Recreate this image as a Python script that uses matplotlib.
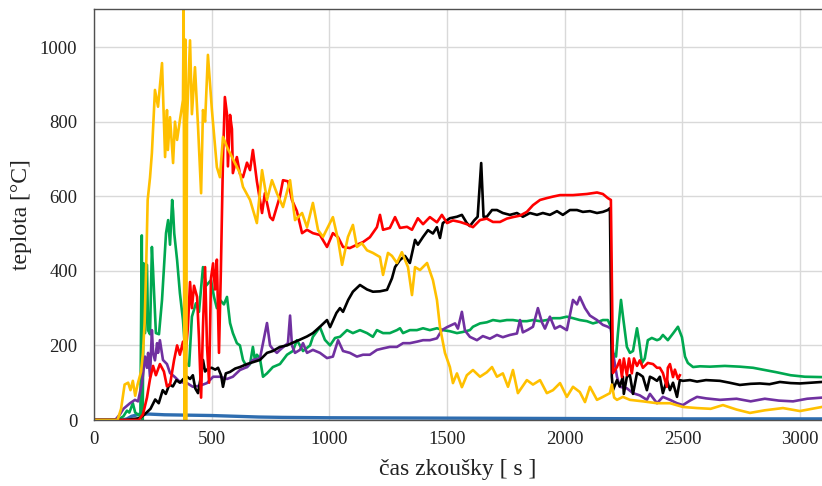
import numpy as np
import matplotlib.pyplot as plt

plt.rcParams['font.family'] = ['Liberation Serif', 'DejaVu Serif']

# teploty v jednotlivych mistech mereni [s], [°C]
t_zluta = [0, 100, 115, 130, 145, 155, 165, 175, 185, 200, 208, 215, 222, 228, 238, 246, 259, 272,
           289, 293, 302, 310, 314, 323, 336, 344, 353, 365, 378, 381, 384, 388, 391, 395, 408, 416,
           429, 442, 455, 463, 472, 484, 501, 522, 535, 548, 565, 590, 620, 633, 663, 692, 714, 735,
           756, 777, 803, 833, 854, 884, 905, 930, 952, 973, 1015, 1037, 1054, 1079, 1100, 1117,
           1138, 1160, 1185, 1215, 1228, 1249, 1266, 1287, 1308, 1334, 1351, 1364, 1385, 1415, 1440,
           1457, 1470, 1491, 1512, 1525, 1542, 1563, 1584, 1610, 1640, 1669, 1691, 1712, 1737, 1759,
           1780, 1801, 1839, 1865, 1895, 1924, 1950, 1980, 2009, 2035, 2064, 2086, 2107, 2137, 2162,
           2192, 2200, 2210, 2222, 2247, 2277, 2332, 2392, 2447, 2502, 2562, 2620, 2672, 2730, 2787,
           2850, 2927, 2999, 3093]
T_zluta = [0, 0, 30, 95, 100, 80, 105, 65, 95, 130, 180, 260, 420, 590, 650, 716, 885, 840,
           957, 880, 705, 831, 724, 812, 689, 800, 751, 804, 858, 1100, 0, 1020, 0, 800, 1018, 820,
           946, 786, 608, 831, 800, 979, 831, 678, 651, 759, 732, 700, 662, 625, 590, 528, 670, 590,
           643, 608, 571, 643, 536, 555, 517, 582, 509, 491, 544, 483, 416, 491, 523, 464,
           474, 455, 448, 437, 389, 448, 440, 421, 450, 410, 335, 410, 402, 421, 375,
           322, 249, 180, 142, 99, 125, 88, 120, 134, 116, 128, 142, 116, 125, 89,
           134, 72, 107, 95, 107, 72, 80, 99, 62, 89, 75, 48, 89, 54, 62,
           72, 95, 60, 54, 62, 54, 50, 45, 45, 35, 32, 30, 40, 28, 19,
           26, 32, 24, 35]

t_cervena = [0, 190, 208, 225, 238, 251, 263, 280, 297, 310, 323, 340, 353, 365, 378, 387, 399, 408,
             416, 425, 438, 446, 455, 463, 472, 480, 489, 497, 506, 514, 522, 531, 539, 548, 556, 565,
             569, 578, 586, 590, 607, 620, 633, 650, 663, 675, 692, 714, 726, 748, 760, 790, 803, 824,
             841, 862, 884, 905, 930, 960, 990, 1015, 1037, 1058, 1087, 1117, 1143, 1172, 1202, 1215,
             1228, 1257, 1279, 1300, 1330, 1351, 1376, 1398, 1427, 1457, 1478, 1500, 1525, 1555, 1584,
             1610, 1640, 1669, 1695, 1725, 1754, 1780, 1810, 1839, 1865, 1895, 1924, 1950, 1980, 2035,
             2094, 2137, 2162, 2183, 2196, 2205, 2222, 2234, 2243, 2251, 2264, 2273, 2285, 2294, 2307,
             2319, 2332, 2353, 2375, 2392, 2404, 2417, 2434, 2438, 2447, 2460, 2468, 2481, 2489]
T_cervena = [0, 0, 15, 60, 110, 145, 120, 150, 130, 90, 95, 160, 200, 175, 210, 160, 250, 370,
             300, 360, 330, 220, 60, 250, 410, 200, 100, 380, 420, 350, 430, 180, 400, 700, 866, 820,
             680, 818, 780, 662, 705, 660, 651, 690, 670, 724, 640, 555, 608, 544, 536, 600, 643, 640,
             590, 560, 501, 510, 501, 496, 464, 501, 490, 464, 461, 470, 477, 490, 517, 550,
             510, 515, 544, 515, 518, 510, 541, 525, 544, 530, 550, 528, 535, 531, 525,
             517, 536, 540, 531, 531, 540, 544, 548, 558, 576, 590, 595, 599, 603, 603,
             606, 610, 606, 595, 590, 126, 142, 161, 115, 165, 120, 165, 125, 165, 145,
             160, 140, 153, 150, 140, 140, 126, 89, 140, 150, 115, 135, 110, 120]

t_cerna = [0, 130, 160, 195, 215, 240, 260, 275, 292, 305, 320, 335, 350, 365, 380, 395, 408, 420,
           430, 442, 455, 463, 472, 485, 500, 515, 527, 540, 548, 560, 578, 600, 620, 650, 675, 705,
           735, 760, 790, 820, 840, 870, 905, 930, 960, 990, 1003, 1030, 1045, 1058, 1080, 1100, 1130,
           1160, 1185, 1215, 1245, 1266, 1279, 1300, 1321, 1342, 1364, 1376, 1398, 1419, 1440, 1457,
           1470, 1482, 1512, 1542, 1563, 1584, 1597, 1615, 1630, 1638, 1645, 1650, 1655, 1669, 1691,
           1712, 1737, 1767, 1797, 1822, 1852, 1882, 1907, 1937, 1967, 1992, 2022, 2052, 2077, 2107,
           2137, 2162, 2183, 2192, 2200, 2205, 2222, 2234, 2247, 2251, 2264, 2277, 2290, 2307, 2319,
           2332, 2349, 2362, 2375, 2392, 2404, 2417, 2434, 2447, 2460, 2477, 2489, 2502, 2532, 2562,
           2600, 2659, 2700, 2744, 2790, 2829, 2870, 2914, 2960, 2999, 3093]
T_cerna = [0, 0, 2, 5, 15, 30, 55, 45, 80, 70, 95, 90, 107, 100, 110, 116, 110, 120,
           85, 72, 120, 161, 130, 138, 140, 135, 140, 120, 89, 125, 129, 138, 142, 150, 155, 161,
           180, 185, 196, 200, 206, 214, 224, 233, 250, 268, 249, 287, 300, 290, 322, 344, 362,
           350, 344, 345, 349, 380, 410, 429, 440, 421, 483, 470, 491, 509, 500, 517,
           488, 528, 541, 545, 550, 528, 520, 535, 545, 620, 689, 620, 545, 545, 563,
           563, 555, 550, 555, 545, 555, 550, 555, 550, 560, 550, 563, 563, 558, 560,
           555, 558, 563, 568, 116, 80, 107, 90, 116, 70, 116, 120, 70, 126, 122,
           116, 80, 116, 112, 105, 116, 72, 107, 80, 100, 62, 107, 105, 107, 103,
           107, 105, 100, 94, 97, 98, 96, 102, 99, 98, 102]

t_zelena = [0, 100, 125, 140, 150, 165, 175, 197, 203, 207, 211, 217, 225, 230, 238, 246, 251, 263,
            276, 289, 306, 315, 323, 332, 336, 341, 353, 365, 378, 391, 404, 416, 433, 446, 463, 476,
            497, 510, 522, 535, 552, 565, 578, 590, 607, 620, 633, 650, 663, 675, 684, 692, 705, 718,
            735, 760, 790, 820, 845, 862, 875, 888, 918, 930, 960, 981, 1003, 1024, 1045, 1075, 1100,
            1130, 1160, 1185, 1202, 1228, 1257, 1287, 1300, 1313, 1342, 1372, 1398, 1427, 1457, 1482,
            1512, 1542, 1567, 1597, 1610, 1640, 1669, 1695, 1725, 1754, 1780, 1810, 1839, 1865, 1895,
            1924, 1950, 1980, 2009, 2035, 2064, 2094, 2120, 2137, 2162, 2183, 2196, 2205, 2218, 2226,
            2239, 2247, 2264, 2277, 2290, 2307, 2315, 2328, 2340, 2353, 2370, 2392, 2404, 2417, 2438,
            2460, 2481, 2498, 2511, 2523, 2545, 2575, 2617, 2680, 2744, 2800, 2850, 2900, 2960, 3020,
            3093]
T_zelena = [0, 0, 10, 25, 20, 45, 20, 10, 495, 0, 420, 233, 416, 240, 230, 464, 400, 233,
            230, 322, 501, 536, 470, 590, 560, 500, 429, 340, 268, 153, 145, 277, 313, 290, 410, 360,
            375, 330, 300, 322, 310, 330, 260, 233, 206, 200, 161, 142, 150, 196, 160, 175, 165, 116,
            125, 142, 150, 175, 185, 214, 200, 185, 200, 223, 249, 215, 200, 220, 223, 241, 233,
            241, 233, 223, 241, 233, 233, 241, 246, 233, 241, 241, 246, 241, 246, 241,
            238, 233, 236, 241, 250, 259, 262, 268, 265, 268, 268, 265, 265, 268, 265,
            268, 273, 273, 277, 273, 268, 265, 259, 262, 268, 268, 250, 180, 170, 233,
            322, 280, 196, 180, 185, 246, 215, 153, 165, 214, 220, 214, 217, 228, 214,
            232, 250, 222, 170, 153, 142, 144, 143, 145, 143, 140, 134, 128, 120, 116,
            115]

t_fialova = [0, 90, 110, 125, 153, 174, 187, 204, 217, 225, 230, 238, 246, 251, 259, 268, 272, 280,
             293, 310, 323, 344, 365, 395, 420, 450, 480, 506, 535, 565, 590, 620, 650, 675, 705, 718,
             735, 748, 760, 777, 790, 803, 824, 833, 841, 854, 875, 888, 905, 930, 960, 990, 1015,
             1037, 1058, 1087, 1117, 1143, 1172, 1202, 1228, 1257, 1287, 1313, 1342, 1372, 1398, 1427,
             1457, 1478, 1500, 1534, 1546, 1563, 1576, 1597, 1627, 1652, 1682, 1712, 1737, 1767, 1797,
             1810, 1822, 1844, 1865, 1886, 1903, 1916, 1937, 1958, 1980, 2009, 2035, 2052, 2064, 2086,
             2107, 2137, 2162, 2183, 2196, 2205, 2222, 2234, 2264, 2290, 2319, 2349, 2362, 2392, 2417,
             2447, 2477, 2502, 2532, 2562, 2600, 2660, 2730, 2790, 2850, 2910, 2970, 3030, 3093]
T_fialova = [0, 0, 15, 30, 45, 54, 50, 99, 170, 140, 180, 116, 241, 180, 160, 206, 180, 214,
             161, 150, 126, 115, 102, 99, 89, 92, 99, 116, 116, 110, 116, 134, 142, 161, 165, 206,
             260, 200, 190, 180, 188, 195, 206, 280, 200, 180, 188, 206, 180, 188, 180, 166, 170,
             214, 185, 180, 170, 175, 175, 188, 192, 196, 196, 206, 206, 210, 214, 214,
             219, 241, 249, 259, 245, 290, 240, 223, 214, 225, 218, 228, 222, 228, 232,
             268, 235, 242, 250, 300, 262, 245, 277, 245, 252, 241, 322, 310, 330, 300,
             280, 268, 255, 250, 245, 180, 116, 89, 85, 72, 66, 54, 70, 45, 62,
             54, 45, 40, 52, 62, 58, 54, 57, 50, 57, 52, 50, 57, 60]

t_modra = [0, 120, 140, 160, 190, 230, 300, 400, 500, 600, 700, 800, 1000, 1500, 2000, 2500, 3093]
T_modra = [0, 0, 3, 10, 15, 16, 14, 13, 12, 10, 8, 7, 6, 5, 4, 3, 3]

fig = plt.figure(figsize=(8.22, 4.86), dpi=100)
ax = fig.add_axes([94 / 822, 66 / 486, 728 / 822, 411 / 486])

lw = 1.9
ax.plot(t_modra, T_modra, color='#2E6DB0', lw=2.4)
ax.plot(t_zelena, T_zelena, color='#00A850', lw=lw)
ax.plot(t_fialova, T_fialova, color='#7030A0', lw=lw)
ax.plot(t_cerna, T_cerna, color='black', lw=lw)
ax.plot(t_cervena, T_cervena, color='#FF0000', lw=lw)
ax.plot(t_zluta, T_zluta, color='#FFC000', lw=lw)

ax.set_xlim(0, 3093)
ax.set_ylim(0, 1102)
ax.set_xticks(np.arange(0, 3001, 500))
ax.set_yticks(np.arange(0, 1001, 200))
ax.grid(True, color='#d9d9d9', lw=1.0)
ax.set_axisbelow(True)
ax.tick_params(length=0, labelsize=13.5, colors='#222222')
ax.tick_params(axis='y', pad=12)
ax.tick_params(axis='x', pad=8)

for side in ['top', 'left', 'bottom']:
    ax.spines[side].set_color('#505050')
    ax.spines[side].set_linewidth(1.0)
ax.spines['right'].set_visible(False)

ax.set_xlabel('čas zkoušky [ s ]', fontsize=17, labelpad=8, color='#222222')
ax.set_ylabel('teplota [°C]', fontsize=17, labelpad=6, color='#222222')

plt.savefig('out.png', dpi=100)
